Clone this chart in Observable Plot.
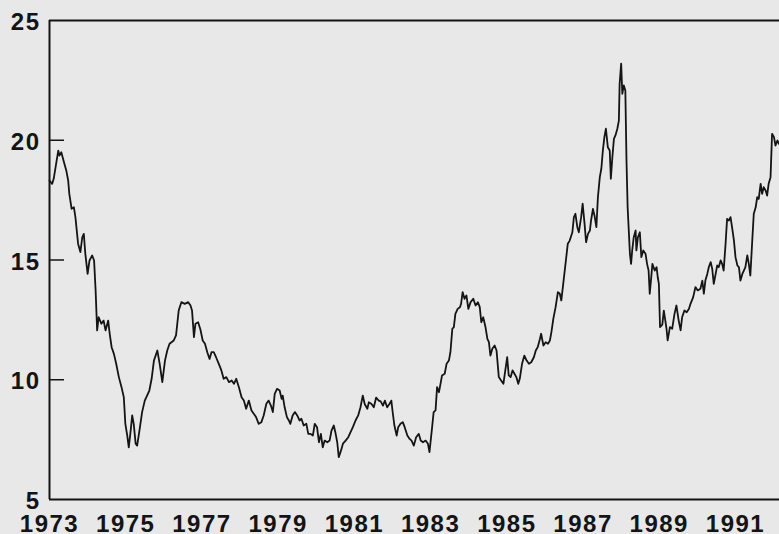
<!DOCTYPE html>
<html><head><meta charset="utf-8">
<script src="https://cdn.jsdelivr.net/npm/d3@7"></script>
<script src="https://cdn.jsdelivr.net/npm/@observablehq/plot@0.6"></script>
<style>
html,body{margin:0;padding:0;background:#e8e8e8;}
#chart svg{display:block;}
#chart svg text{letter-spacing:1.5px;}
</style></head><body><div id="chart"></div>
<script>
// S&P 500 dividend yield series (decimal year, value)
const years = [
1973.00,1973.07,1973.11,1973.23,1973.26,1973.31,1973.38,1973.44,1973.49,1973.52,1973.58,1973.64,1973.68,1973.75,1973.81,1973.86,1973.90,1973.94,
1974.00,1974.05,1974.12,1974.17,1974.21,1974.25,1974.29,1974.36,1974.42,1974.47,1974.54,1974.58,1974.63,1974.69,1974.75,1974.82,1974.89,1974.95,1974.99,
1975.04,1975.08,1975.13,1975.17,1975.21,1975.26,1975.30,1975.36,1975.43,1975.50,1975.56,1975.62,1975.68,1975.74,1975.83,1975.89,1975.96,
1976.03,1976.09,1976.15,1976.26,1976.32,1976.39,1976.46,1976.55,1976.64,1976.70,1976.74,1976.79,1976.83,1976.90,1976.96,
1977.02,1977.08,1977.14,1977.20,1977.25,1977.31,1977.37,1977.44,1977.51,1977.57,1977.64,1977.71,1977.78,1977.84,1977.90,1977.97,
1978.04,1978.10,1978.16,1978.23,1978.30,1978.36,1978.42,1978.49,1978.56,1978.62,1978.69,1978.75,1978.81,1978.86,1978.91,1978.97,
1979.04,1979.09,1979.12,1979.17,1979.23,1979.28,1979.32,1979.38,1979.44,1979.50,1979.56,1979.61,1979.67,1979.74,1979.79,1979.85,1979.91,1979.96,
1980.02,1980.07,1980.12,1980.17,1980.22,1980.29,1980.35,1980.40,1980.46,1980.50,1980.55,1980.59,1980.65,1980.70,1980.77,1980.84,1980.90,1980.96,
1981.03,1981.10,1981.16,1981.22,1981.27,1981.34,1981.38,1981.45,1981.51,1981.57,1981.64,1981.69,1981.75,1981.80,1981.86,1981.92,1981.97,
1982.01,1982.05,1982.11,1982.15,1982.21,1982.27,1982.32,1982.39,1982.45,1982.50,1982.56,1982.62,1982.69,1982.74,1982.80,1982.87,1982.93,1982.97,
1983.04,1983.08,1983.13,1983.17,1983.22,1983.26,1983.30,1983.37,1983.42,1983.48,1983.52,1983.57,1983.61,1983.65,1983.71,1983.77,1983.80,1983.84,1983.89,1983.94,1983.99,
1984.05,1984.12,1984.18,1984.24,1984.29,1984.33,1984.38,1984.44,1984.49,1984.53,1984.57,1984.62,1984.68,1984.73,1984.79,1984.85,1984.91,1984.96,
1985.01,1985.05,1985.10,1985.15,1985.20,1985.25,1985.30,1985.34,1985.40,1985.46,1985.52,1985.58,1985.64,1985.71,1985.76,1985.81,1985.87,1985.90,1985.96,
1986.02,1986.08,1986.13,1986.17,1986.22,1986.28,1986.34,1986.39,1986.43,1986.48,1986.54,1986.60,1986.65,1986.72,1986.76,1986.80,1986.85,1986.89,1986.95,1986.99,
1987.04,1987.08,1987.13,1987.18,1987.21,1987.26,1987.30,1987.35,1987.39,1987.44,1987.48,1987.52,1987.56,1987.60,1987.65,1987.70,1987.73,1987.77,1987.81,1987.85,1987.90,1987.94,1987.96,
1988.00,1988.03,1988.07,1988.11,1988.14,1988.17,1988.20,1988.23,1988.26,1988.29,1988.33,1988.38,1988.40,1988.44,1988.49,1988.53,1988.58,1988.64,1988.68,1988.72,1988.75,1988.79,1988.82,1988.88,1988.93,1988.96,1988.99,
1989.02,1989.08,1989.12,1989.19,1989.22,1989.28,1989.34,1989.40,1989.45,1989.51,1989.56,1989.60,1989.66,1989.72,1989.78,1989.82,1989.89,1989.95,
1990.01,1990.08,1990.13,1990.17,1990.21,1990.26,1990.30,1990.35,1990.39,1990.43,1990.48,1990.52,1990.56,1990.61,1990.65,1990.69,1990.74,1990.78,1990.83,1990.87,1990.91,1990.96,
1991.00,1991.05,1991.09,1991.13,1991.18,1991.22,1991.26,1991.31,1991.35,1991.39,1991.44,1991.48,1991.53,1991.57,1991.61,1991.66,1991.70,1991.74,1991.79,1991.83,1991.87,1991.92,1991.96,
1992.01,1992.05,1992.10,1992.14
];
const yields = [
18.32,18.18,18.39,19.57,19.36,19.50,19.08,18.74,18.32,17.76,17.14,17.20,16.79,15.68,15.33,15.95,16.09,15.26,
14.42,14.98,15.19,14.98,13.73,12.06,12.61,12.34,12.47,12.06,12.47,11.92,11.36,11.08,10.67,10.11,9.69,9.27,8.16,
7.67,7.18,7.88,8.51,8.16,7.33,7.25,7.88,8.65,9.13,9.34,9.55,10.04,10.80,11.22,10.67,9.90,
10.80,11.22,11.50,11.64,11.85,12.89,13.24,13.17,13.24,13.10,12.89,11.78,12.34,12.40,12.10,
11.64,11.50,11.15,10.87,11.15,11.15,10.94,10.67,10.39,10.04,10.11,9.90,9.97,9.83,10.04,9.69,
9.27,9.13,8.79,9.13,8.72,8.58,8.44,8.16,8.23,8.51,9.00,9.13,8.92,8.65,9.41,9.62,
9.55,9.20,9.34,8.85,8.44,8.30,8.16,8.51,8.65,8.51,8.30,8.37,8.09,8.16,7.74,7.74,7.67,8.16,
8.02,7.39,7.74,7.18,7.46,7.39,7.46,7.88,8.09,7.81,7.39,6.77,7.05,7.33,7.46,7.60,7.81,8.02,
8.30,8.51,8.85,9.34,8.99,8.79,9.06,8.99,8.85,9.25,9.13,9.10,8.92,9.13,8.85,8.99,9.13,
8.58,8.09,7.67,8.02,8.16,8.23,8.02,7.67,7.53,7.46,7.25,7.60,7.74,7.46,7.39,7.46,7.33,6.98,
8.02,8.65,8.72,9.69,9.48,9.83,10.18,10.25,10.67,10.80,11.15,12.13,12.20,12.75,12.96,13.03,13.17,13.66,13.38,13.52,12.96,
13.24,13.38,13.10,13.24,13.03,12.40,12.61,12.20,11.71,11.57,11.01,11.29,11.43,11.22,10.11,9.97,9.83,10.39,
10.94,10.18,10.11,10.39,10.25,10.11,9.83,10.04,10.67,11.01,10.80,10.67,10.73,10.94,11.22,11.36,11.71,11.92,11.43,
11.57,11.50,11.64,11.99,12.54,13.03,13.66,13.59,13.31,14.00,14.84,15.68,15.81,16.16,16.79,16.93,16.37,16.16,16.79,17.35,
16.51,15.74,16.09,16.23,16.65,17.13,16.86,16.37,17.62,18.46,18.81,19.57,20.13,20.48,19.71,19.57,18.39,19.30,20.06,20.20,20.48,20.82,22.36,
23.20,21.94,22.29,22.08,19.15,17.20,16.23,15.26,14.84,15.40,15.95,16.23,15.40,15.95,16.16,15.12,15.40,15.26,14.84,14.56,13.59,14.28,14.84,14.56,14.70,14.28,14.00,
12.20,12.30,12.89,12.13,11.64,12.20,12.13,12.75,13.10,12.47,12.06,12.61,12.89,12.82,12.96,13.17,13.45,13.87,
13.73,13.80,14.14,13.59,14.14,14.42,14.70,14.91,14.63,14.00,14.42,14.77,14.70,14.98,14.84,14.56,15.68,16.72,16.65,16.79,16.37,15.81,
15.12,14.77,14.70,14.14,14.42,14.56,14.70,15.19,14.84,14.35,15.81,16.93,17.20,17.62,17.55,18.18,17.76,18.04,17.90,17.69,18.18,18.46,20.27,
20.13,19.78,19.99,19.85
];
const xTicks = [1973,1975,1977,1979,1981,1983,1985,1987,1989,1991];
const yTicks = [5,10,15,20,25];
const innerTicks = [10,15,20];

const data = years.map((t, i) => ({t, v: yields[i]}));
const ink = "#141414";
const font = "'Liberation Sans', Arial, Helvetica, sans-serif";
const W = 779, ML = 49, tickLen = 15;

const chart = Plot.plot({
  width: W, height: 534,
  marginLeft: ML, marginRight: 0, marginTop: 20, marginBottom: 35,
  style: {background: "#e8e8e8", fontFamily: font},
  x: {domain: [1973, 1992.155], axis: null, label: null},
  y: {domain: [5, 25], axis: null, label: null},
  marks: [
    Plot.ruleX([1973], {stroke: ink, strokeWidth: 2}),
    Plot.ruleY([5, 25], {stroke: ink, strokeWidth: 2}),
    Plot.tickY(innerTicks, {y: d => d, insetRight: W - ML - tickLen, stroke: ink, strokeWidth: 1.5}),
    Plot.axisY(yTicks, {tickSize: 0, tickPadding: 9, fontSize: 24, fontWeight: "bold", fill: ink, dy: 2, label: null, tickFormat: d => String(d)}),
    Plot.axisX(xTicks, {tickSize: 0, tickPadding: 15, fontSize: 24, fontWeight: "bold", fill: ink, label: null, tickFormat: d => String(d)}),
    Plot.line(data, {x: "t", y: "v", stroke: ink, strokeWidth: 1.8})
  ]
});
document.getElementById("chart").append(chart);
</script></body></html>
